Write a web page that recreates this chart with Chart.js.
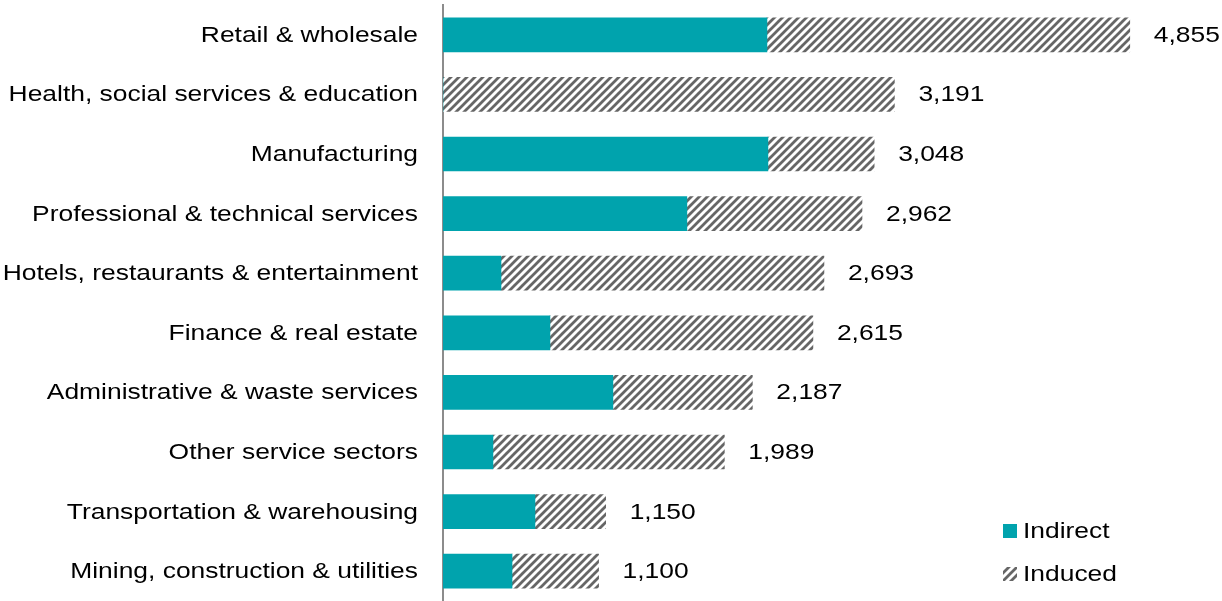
<!DOCTYPE html>
<html>
<head>
<meta charset="utf-8">
<script src="https://cdn.jsdelivr.net/npm/chart.js@4"></script>
<style>
  html, body { margin: 0; padding: 0; background: #fff; }
  #wrap { width: 1222px; height: 601px; }
</style>
</head>
<body>
<div id="wrap"><canvas id="chart" width="1222" height="601"></canvas></div>
<script>
// sectors, top to bottom
const sectors = [
  'Retail & wholesale',
  'Health, social services & education',
  'Manufacturing',
  'Professional & technical services',
  'Hotels, restaurants & entertainment',
  'Finance & real estate',
  'Administrative & waste services',
  'Other service sectors',
  'Transportation & warehousing',
  'Mining, construction & utilities'
];
const indirect = [2290, 0, 2297, 1724, 410, 756, 1201, 353, 650, 488];
const induced = [2565, 3191, 751, 1238, 2283, 1859, 986, 1636, 500, 612];
const totals = [4855, 3191, 3048, 2962, 2693, 2615, 2187, 1989, 1150, 1100];

const teal = '#00A3AD';
const fontFamily = 'Arial, "Liberation Sans", sans-serif';
const stretch = 1.2; // el texto del original sale más ancho

// patrón de rayas diagonales para "Induced"
function makeHatch() {
  const p = document.createElement('canvas');
  p.width = 8;
  p.height = 8;
  const c = p.getContext('2d');
  c.fillStyle = '#fff';
  c.fillRect(0, 0, 8, 8);
  c.strokeStyle = '#666666';
  c.lineWidth = 2.8;
  c.beginPath();
  c.moveTo(-2, 10); c.lineTo(10, -2);
  c.moveTo(-6, 6); c.lineTo(6, -6);
  c.moveTo(2, 14); c.lineTo(14, 2);
  c.stroke();
  return c.createPattern(p, 'repeat');
}
const hatch = makeHatch();

function wideText(ctx, text, x, y) {
  ctx.save();
  ctx.translate(x, y);
  ctx.scale(stretch, 1);
  ctx.fillText(text, 0, 0);
  ctx.restore();
}

// nombres de los sectores junto al eje
const sectorLabels = {
  id: 'sectorLabels',
  afterDraw(chart) {
    const ctx = chart.ctx;
    const yScale = chart.scales.y;
    ctx.save();
    ctx.font = '22px ' + fontFamily;
    ctx.fillStyle = '#000';
    ctx.textAlign = 'right';
    ctx.textBaseline = 'middle';
    sectors.forEach((s, i) => {
      wideText(ctx, s, 418, yScale.getPixelForTick(i) + 1);
    });
    ctx.restore();
  }
};

// etiquetas con el total al final de cada barra
const totalLabels = {
  id: 'totalLabels',
  afterDatasetsDraw(chart) {
    const ctx = chart.ctx;
    const meta = chart.getDatasetMeta(1);
    ctx.save();
    ctx.font = '22px ' + fontFamily;
    ctx.fillStyle = '#000';
    ctx.textAlign = 'left';
    ctx.textBaseline = 'middle';
    meta.data.forEach((bar, i) => {
      wideText(ctx, totals[i].toLocaleString('en-US'), bar.x + 24, bar.y + 1);
    });
    ctx.restore();
  }
};

// leyenda abajo a la derecha
const cornerLegend = {
  id: 'cornerLegend',
  afterDraw(chart) {
    const ctx = chart.ctx;
    const items = [
      { label: 'Indirect', fill: teal, y: 531 },
      { label: 'Induced', fill: hatch, y: 574 }
    ];
    ctx.save();
    ctx.font = '22px ' + fontFamily;
    ctx.textAlign = 'left';
    ctx.textBaseline = 'middle';
    items.forEach(it => {
      ctx.fillStyle = it.fill;
      ctx.fillRect(1003, it.y - 7, 14, 14);
      ctx.fillStyle = '#000';
      wideText(ctx, it.label, 1023, it.y + 1);
    });
    ctx.restore();
  }
};

new Chart(document.getElementById('chart'), {
  type: 'bar',
  data: {
    labels: sectors,
    datasets: [
      { label: 'Indirect', data: indirect, backgroundColor: teal, borderWidth: 0 },
      { label: 'Induced', data: induced, backgroundColor: hatch, borderWidth: 0 }
    ]
  },
  options: {
    indexAxis: 'y',
    responsive: false,
    animation: false,
    layout: { padding: { top: 5, right: 1, bottom: 0, left: 0 } },
    datasets: { bar: { barThickness: 34 } },
    plugins: {
      legend: { display: false },
      tooltip: { enabled: false }
    },
    scales: {
      x: {
        stacked: true,
        min: 0,
        max: 5500,
        display: false
      },
      y: {
        stacked: true,
        grid: { display: false },
        border: { display: true, color: '#8c8c8c', width: 2 },
        ticks: { display: false },
        afterFit(scale) {
          scale.width = 443;
          scale.paddingTop = 0;
          scale.paddingBottom = 0;
        }
      }
    }
  },
  plugins: [sectorLabels, totalLabels, cornerLegend]
});
</script>
</body>
</html>
